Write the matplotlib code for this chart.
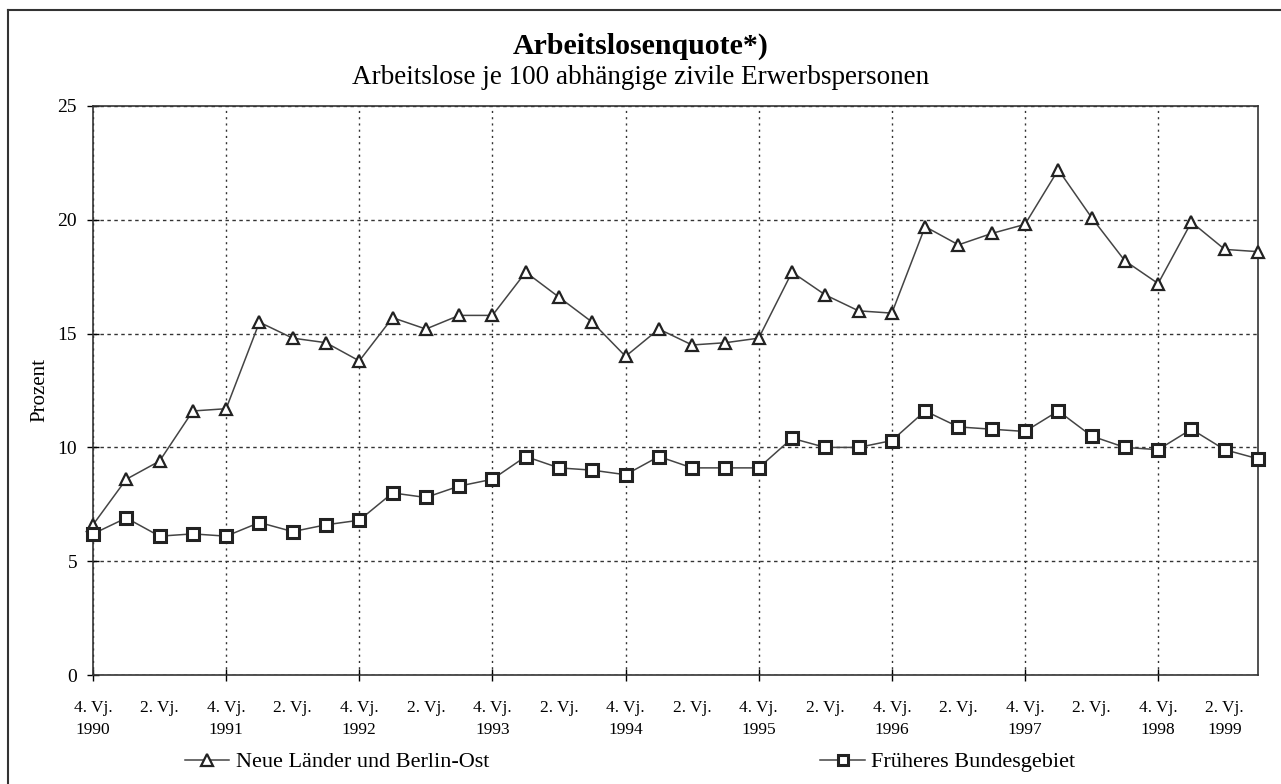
import matplotlib.pyplot as plt
from matplotlib.lines import Line2D

plt.rcParams['font.family'] = ['Liberation Serif', 'DejaVu Serif']

# Quartale 4. Vj. 1990 bis 3. Vj. 1999
quartale = list(range(36))
neue_laender = [6.6, 8.6, 9.4, 11.6, 11.7, 15.5, 14.8, 14.6, 13.8, 15.7, 15.2, 15.8,
                15.8, 17.7, 16.6, 15.5, 14.0, 15.2, 14.5, 14.6, 14.8, 17.7, 16.7, 16.0,
                15.9, 19.7, 18.9, 19.4, 19.8, 22.2, 20.1, 18.2, 17.2, 19.9, 18.7, 18.6]
frueheres_bg = [6.2, 6.9, 6.1, 6.2, 6.1, 6.7, 6.3, 6.6, 6.8, 8.0, 7.8, 8.3,
                8.6, 9.6, 9.1, 9.0, 8.8, 9.6, 9.1, 9.1, 9.1, 10.4, 10.0, 10.0,
                10.3, 11.6, 10.9, 10.8, 10.7, 11.6, 10.5, 10.0, 9.9, 10.8, 9.9, 9.5]
xlabels = ['4. Vj.\n1990', '2. Vj.', '4. Vj.\n1991', '2. Vj.', '4. Vj.\n1992', '2. Vj.',
           '4. Vj.\n1993', '2. Vj.', '4. Vj.\n1994', '2. Vj.', '4. Vj.\n1995', '2. Vj.',
           '4. Vj.\n1996', '2. Vj.', '4. Vj.\n1997', '2. Vj.', '4. Vj.\n1998', '2. Vj.\n1999']

fig = plt.figure(figsize=(12.81, 7.84), dpi=100)
ax = fig.add_axes([93/1281, 1 - 675/784, (1258 - 93)/1281, (675 - 106)/784])

l1, = ax.plot(quartale, neue_laender, color='#444444', lw=1.1, marker='^', ms=9,
              mfc='white', mec='#222222', mew=1.6, clip_on=False, zorder=4)
l2, = ax.plot(quartale, frueheres_bg, color='#444444', lw=1.1, marker='s', ms=8,
              mfc='white', mec='#222222', mew=2.2, clip_on=False, zorder=4)

ax.set_xlim(0, 35)
ax.set_ylim(0, 25)
ax.set_yticks([0, 5, 10, 15, 20, 25])
ax.xaxis.remove_overlapping_locs = False
ax.set_xticks(range(0, 36, 2), xlabels, linespacing=1.5)
ax.set_xticks(range(0, 36, 4), minor=True)
ax.tick_params(axis='x', which='major', length=0, pad=18, labelsize=12.5)
ax.tick_params(axis='x', which='minor', length=9, direction='inout', width=1)
ax.tick_params(axis='y', length=9, direction='inout', width=1, labelsize=14, pad=7)

ax.grid(axis='y', which='major', color='#333333', lw=1, ls=(0, (2.5, 2.5)))
ax.grid(axis='x', which='minor', color='#333333', lw=1, ls=(0, (1.5, 3)))
for s in ax.spines.values():
    s.set_color('#333333')
    s.set_linewidth(1.2)

ax.set_ylabel('Prozent', fontsize=15, labelpad=6)

fig.text(0.5, 1 - 46/784, 'Arbeitslosenquote*)', ha='center', va='center',
         fontsize=21.5, fontweight='bold')
fig.text(0.5, 1 - 77/784, 'Arbeitslose je 100 abhängige zivile Erwerbspersonen',
         ha='center', va='center', fontsize=19.5)

fig.legend(handles=[l1], labels=['Neue Länder und Berlin-Ost'], loc='center',
           bbox_to_anchor=(337/1281, 1 - 762/784), frameon=False, fontsize=16,
           handlelength=2.0, handletextpad=0.3, markerscale=0.9)
fig.legend(handles=[l2], labels=['Früheres Bundesgebiet'], loc='center',
           bbox_to_anchor=(948/1281, 1 - 762/784), frameon=False, fontsize=16,
           handlelength=2.0, handletextpad=0.3, markerscale=0.9)

# Rahmen um die Grafik
fig.add_artist(Line2D([8/1281, 8/1281], [0, 1 - 10/784], color='#333333', lw=1.5))
fig.add_artist(Line2D([8/1281, 1], [1 - 10/784, 1 - 10/784], color='#333333', lw=1.5))

fig.savefig('out.png', dpi=100, facecolor='white')
